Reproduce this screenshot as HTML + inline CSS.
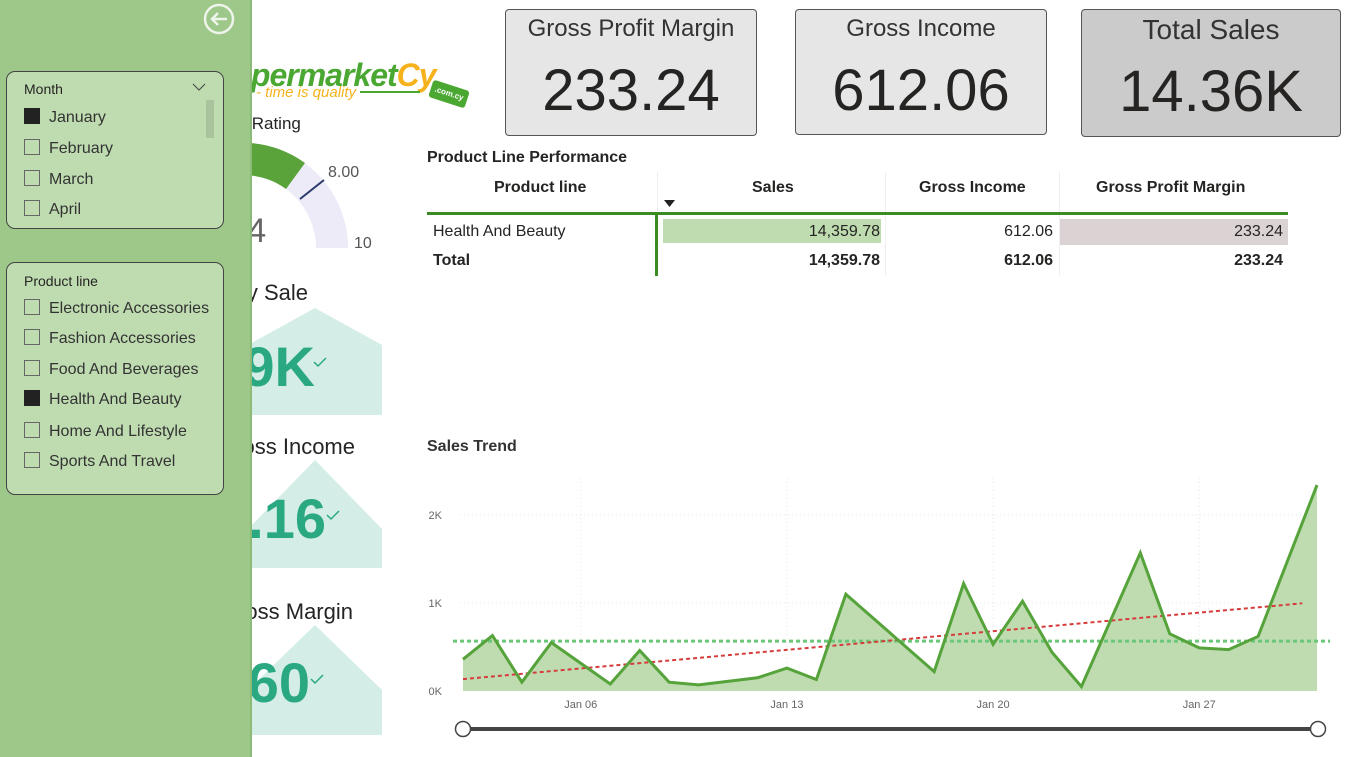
<!DOCTYPE html>
<html><head><meta charset="utf-8">
<style>
*{box-sizing:border-box;margin:0;padding:0}
body{width:1352px;height:757px;overflow:hidden;background:#fff;font-family:"Liberation Sans","DejaVu Sans",sans-serif;position:relative;color:#252423}
.abs{position:absolute}
.card{position:absolute;border:1px solid #555;border-radius:4px;background:#e6e6e6;text-align:center;white-space:nowrap}
.card .t{font-size:24px;color:#333;margin-top:5px}
.card .v{font-size:58px;color:#252423;margin-top:14px}
.slicer{position:absolute;left:6px;width:218px;background:#bfdcb1;border:1.5px solid #444;border-radius:9px}
.slicer .h{position:absolute;left:17px;font-size:14px;color:#252423}
.item{position:absolute;left:17px;font-size:16px;color:#333;height:20px;line-height:18px;white-space:nowrap}
.item .cb{display:inline-block;width:16px;height:16px;border:1px solid #666;vertical-align:-2px;margin-right:9px}
.item .cb.on{background:#222;border-color:#222}
.th{position:absolute;top:179px;font-size:16px;font-weight:bold;color:#252423;white-space:nowrap}
.td{position:absolute;font-size:16px;color:#252423;white-space:nowrap}
</style></head><body>

<!-- logo -->
<div class="abs" style="left:200px;top:55px;width:280px;height:60px">
  <div class="abs" style="left:12px;top:2px;font-size:32px;font-weight:bold;font-style:italic;color:#4aa832;white-space:nowrap;letter-spacing:-1px">Supermarket<span style="color:#f5b21b">Cy</span></div>
  <div class="abs" style="left:56px;top:29px;font-size:15px;font-style:italic;color:#f5b21b;white-space:nowrap">- time is quality <span style="display:inline-block;width:60px;height:2px;background:#4aa832;vertical-align:4px"></span></div>
  <div class="abs" style="left:230px;top:30px;width:38px;height:18px;background:#4aa832;transform:rotate(18deg);border-radius:3px;color:#fff;font-size:8px;font-weight:bold;line-height:18px;text-align:center">.com.cy</div>
</div>

<!-- gauge -->
<div class="abs" style="left:218px;top:114px;font-size:17px;color:#252423;white-space:nowrap">Avg Rating</div>
<svg class="abs" style="left:0;top:0" width="400" height="260">
  <path d="M138,248 A105,105 0 0 1 348,248 L316,248 A73,73 0 0 0 170,248 Z" fill="#ecebf7"/>
  <path d="M138,248 A105,105 0 0 1 305,163 L286,189 A73,73 0 0 0 170,248 Z" fill="#5aa33b"/>
  <line x1="300" y1="199" x2="324" y2="180" stroke="#2b3a6b" stroke-width="2"/>
  <text x="328" y="177" font-size="16" fill="#555">8.00</text>
  <text x="354" y="248" font-size="16" fill="#555">10</text>
  <text x="200" y="242" font-size="34" fill="#666">6.74</text>
</svg>

<!-- left KPI cards -->
<svg class="abs" style="left:0;top:0" width="400" height="757">
  <polygon points="248,345 315,308 382,345 382,415 248,415" fill="#d4ede6"/>
  <polygon points="248,529 315,460 382,529 382,568 248,568" fill="#d4ede6"/>
  <polygon points="248,690 315,625 382,690 382,735 248,735" fill="#d4ede6"/>
  <text x="308" y="300" font-size="22" fill="#252423" text-anchor="end">Avg Daily Sale</text>
  <text x="355" y="454" font-size="22" fill="#252423" text-anchor="end">Gross Income</text>
  <text x="353" y="619" font-size="22" fill="#252423" text-anchor="end">Gross Margin</text>
  <text x="315" y="386" font-size="56" font-weight="bold" fill="#2aa882" text-anchor="end">0.49K</text>
  <text x="326" y="538" font-size="56" font-weight="bold" fill="#2aa882" text-anchor="end">20.16</text>
  <text x="310" y="702" font-size="56" font-weight="bold" fill="#2aa882" text-anchor="end">4.60</text>
  <path d="M314,362 l4,4 l8,-8" stroke="#2aa882" stroke-width="1.5" fill="none"/>
  <path d="M327,515 l4,4 l8,-8" stroke="#2aa882" stroke-width="1.5" fill="none"/>
  <path d="M311,679 l4,4 l8,-8" stroke="#2aa882" stroke-width="1.5" fill="none"/>
</svg>

<!-- filter panel -->
<div class="abs" style="left:0;top:0;width:252px;height:757px;background:#9dc88a;border-right:2px solid #8cbb78;z-index:5">
  <svg class="abs" style="left:203px;top:3px" width="32" height="32">
    <circle cx="16" cy="16" r="14" fill="none" stroke="#eef4ea" stroke-width="2.5"/>
    <path d="M24,16 H9 M15,10 L9,16 L15,22" stroke="#eef4ea" stroke-width="2.5" fill="none"/>
  </svg>
  <div class="slicer" style="top:71px;height:158px">
    <div class="h" style="top:9px">Month</div>
    <svg class="abs" style="left:185px;top:10px" width="14" height="10"><path d="M1,2 L7,8 L13,2" stroke="#444" fill="none"/></svg>
    <div class="abs" style="left:199px;top:28px;width:8px;height:38px;background:#a9c49d"></div>
    <div class="item" style="top:36px"><span class="cb on"></span>January</div>
    <div class="item" style="top:67px"><span class="cb"></span>February</div>
    <div class="item" style="top:98px"><span class="cb"></span>March</div>
    <div class="item" style="top:128px"><span class="cb"></span>April</div>
  </div>
  <div class="slicer" style="top:262px;height:233px">
    <div class="h" style="top:10px">Product line</div>
    <div class="item" style="top:36px"><span class="cb"></span>Electronic Accessories</div>
    <div class="item" style="top:66px"><span class="cb"></span>Fashion Accessories</div>
    <div class="item" style="top:97px"><span class="cb"></span>Food And Beverages</div>
    <div class="item" style="top:127px"><span class="cb on"></span>Health And Beauty</div>
    <div class="item" style="top:159px"><span class="cb"></span>Home And Lifestyle</div>
    <div class="item" style="top:189px"><span class="cb"></span>Sports And Travel</div>
  </div>
</div>

<!-- top cards -->
<div class="card" style="left:505px;top:9px;width:252px;height:127px"><div class="t">Gross Profit Margin</div><div class="v">233.24</div></div>
<div class="card" style="left:795px;top:9px;width:252px;height:126px"><div class="t">Gross Income</div><div class="v">612.06</div></div>
<div class="card" style="left:1081px;top:9px;width:260px;height:128px;background:#cbcbcb"><div class="t" style="font-size:28px;margin-top:4px">Total Sales</div><div class="v" style="margin-top:12px">14.36K</div></div>

<!-- table -->
<div class="abs" style="left:427px;top:149px;font-size:16px;font-weight:bold;white-space:nowrap">Product Line Performance</div>
<div class="abs" style="left:0;top:0">
  <div class="abs" style="left:657px;top:172px;width:1px;height:103px;background:#eee"></div>
  <div class="abs" style="left:885px;top:172px;width:1px;height:103px;background:#eee"></div>
  <div class="abs" style="left:1059px;top:172px;width:1px;height:103px;background:#eee"></div>
  <div class="th" style="left:494px">Product line</div>
  <div class="th" style="left:752px">Sales</div>
  <div class="th" style="left:919px">Gross Income</div>
  <div class="th" style="left:1096px">Gross Profit Margin</div>
  <svg class="abs" style="left:664px;top:200px" width="12" height="8"><path d="M0,0 H11 L5.5,7 Z" fill="#222"/></svg>
  <div class="abs" style="left:427px;top:212px;width:861px;height:3px;background:#3a8c22"></div>
  <div class="abs" style="left:655px;top:214px;width:3px;height:62px;background:#3a8c22"></div>
  <div class="abs" style="left:663px;top:219px;width:218px;height:24px;background:#bedcb0"></div>
  <div class="abs" style="left:1060px;top:219px;width:228px;height:26px;background:#dbd3d3"></div>
  <div class="td" style="left:433px;top:223px">Health And Beauty</div>
  <div class="td" style="left:700px;width:180px;text-align:right;top:223px">14,359.78</div>
  <div class="td" style="left:900px;width:153px;text-align:right;top:223px">612.06</div>
  <div class="td" style="left:1100px;width:183px;text-align:right;top:223px">233.24</div>
  <div class="td" style="left:433px;top:252px;font-weight:bold">Total</div>
  <div class="td" style="left:700px;width:180px;text-align:right;top:252px;font-weight:bold">14,359.78</div>
  <div class="td" style="left:900px;width:153px;text-align:right;top:252px;font-weight:bold">612.06</div>
  <div class="td" style="left:1100px;width:183px;text-align:right;top:252px;font-weight:bold">233.24</div>
</div>

<!-- chart -->
<div class="abs" style="left:427px;top:438px;font-size:16px;font-weight:bold;color:#333">Sales Trend</div>
<svg id="chart" class="abs" style="left:0;top:0" width="1352" height="757"></svg>

<script>
const days = [2,3,4,5,7,8,9,10,12,13,14,15,18,19,20,21,22,23,25,26,27,28,29,31];
const sales = [360,630,100,550,80,460,100,70,150,260,130,1100,220,1220,530,1020,440,50,1570,650,490,470,620,2340];
const yTicks = [0,1000,2000];
const yTickLabels = ["0K","1K","2K"];
const xTicks = [6,13,20,27];
const xTickLabels = ["Jan 06","Jan 13","Jan 20","Jan 27"];

const NS="http://www.w3.org/2000/svg";
const svg=document.getElementById('chart');
const x0=463,x1=1317,dMin=2,dMax=31,yBase=691,pxPerK=88;
const xs=d=>x0+(d-dMin)*(x1-x0)/(dMax-dMin);
const ys=v=>yBase-v/1000*pxPerK;
function mk(tag,attrs){const e=document.createElementNS(NS,tag);for(const k in attrs)e.setAttribute(k,attrs[k]);svg.appendChild(e);return e;}

yTicks.forEach((t,i)=>{
  if(t>0){const g=mk('line',{x1:460,x2:1320,y1:ys(t),y2:ys(t),stroke:'#e4e4e4','stroke-dasharray':'1 3'});
  
  }
  const l=mk('text',{x:442,y:ys(t)+4,'font-size':11,fill:'#666','text-anchor':'end'});l.textContent=yTickLabels[i];
  
  
});
xTicks.forEach((t,i)=>{
  const g=mk('line',{x1:xs(t),x2:xs(t),y1:478,y2:691,stroke:'#e4e4e4','stroke-dasharray':'1 3'});
  
  
  const l=mk('text',{x:xs(t),y:708,'font-size':11,fill:'#666','text-anchor':'middle'});l.textContent=xTickLabels[i];
  
  
});

let pts=days.map((d,i)=>xs(d)+','+ys(sales[i])).join(' ');
const area=mk('polygon',{points:xs(days[0])+','+yBase+' '+pts+' '+xs(days[days.length-1])+','+yBase,fill:'#bfdcb1'});



const avg=sales.reduce((a,b)=>a+b,0)/sales.length;
const avgL=mk('line',{x1:xs(days[0])-10,x2:1330,y1:ys(avg),y2:ys(avg),stroke:'#6cc77a','stroke-width':3,'stroke-dasharray':'4 3'});



const n=days.length,mx=days.reduce((a,b)=>a+b,0)/n;
let sxy=0,sxx=0;days.forEach((d,i)=>{sxy+=(d-mx)*(sales[i]-avg);sxx+=(d-mx)*(d-mx);});
const slope=sxy/sxx,icp=avg-slope*mx;
const tEnd=30.5;
const tr=mk('line',{x1:xs(dMin),y1:ys(icp+slope*dMin),x2:xs(tEnd),y2:ys(icp+slope*tEnd),stroke:'#d63c3c','stroke-width':2,'stroke-dasharray':'4 3'});



const line=mk('polyline',{points:pts,fill:'none',stroke:'#55a33a','stroke-width':3,'stroke-linejoin':'miter'});



const sl=mk('line',{x1:463,x2:1318,y1:729,y2:729,stroke:'#444','stroke-width':4});


[463,1318].forEach((cx,i)=>{
  const c=mk('circle',{cx:cx,cy:729,r:7.5,fill:'#fff',stroke:'#444','stroke-width':1.5});
  
  
});
</script>
</body></html>
